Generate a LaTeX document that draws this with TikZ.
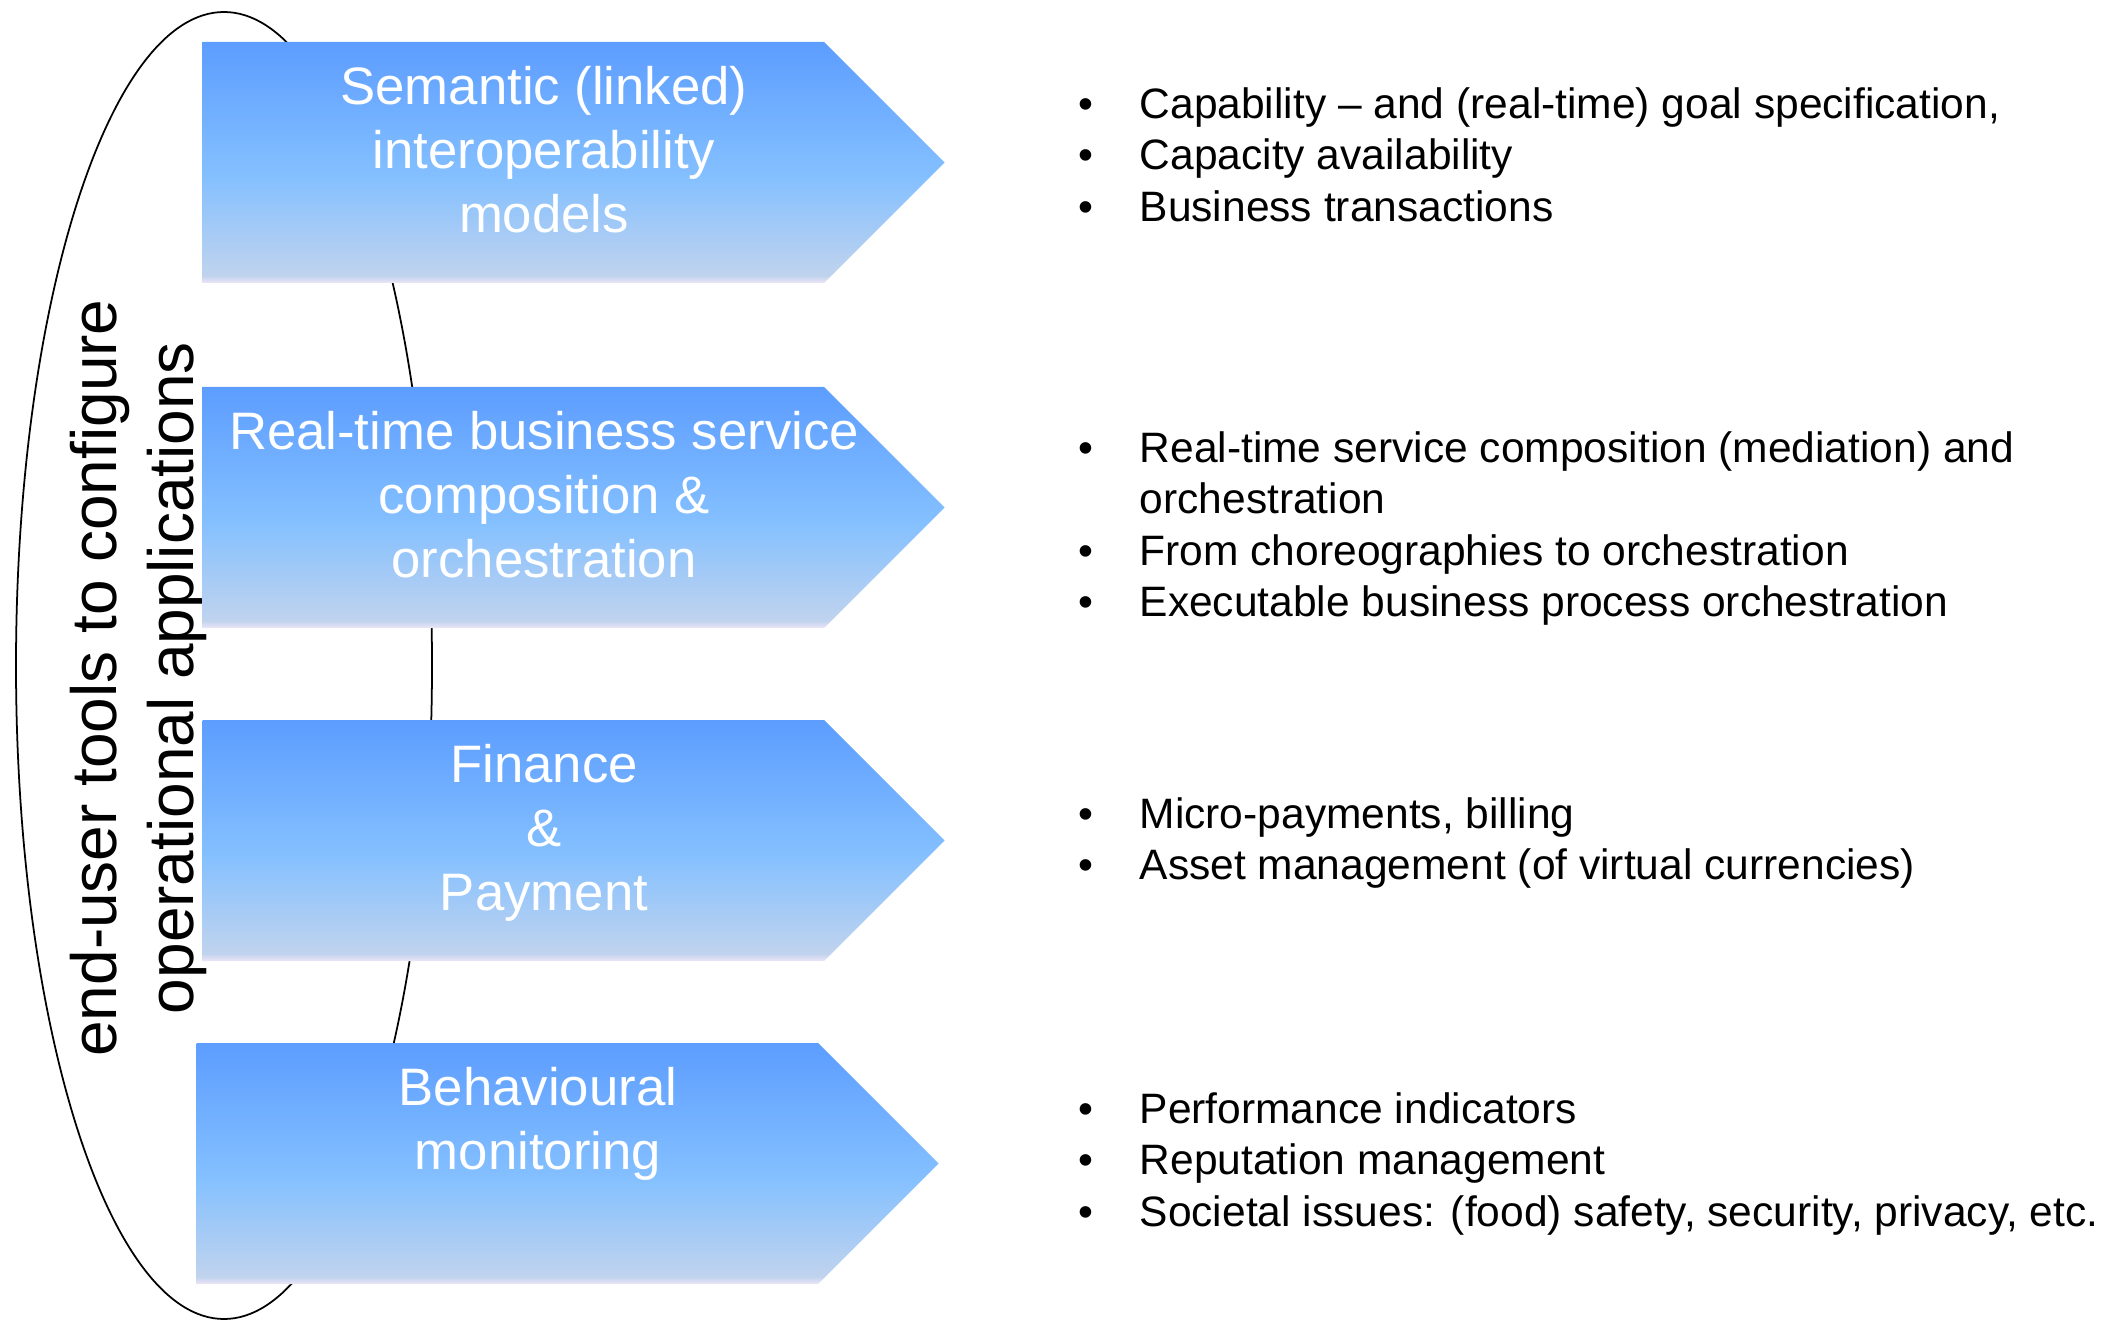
\documentclass[tikz,border=0pt]{standalone}
\usepackage{fontspec}
\setmainfont{Liberation Sans}
\usetikzlibrary{shapes.symbols}
\usetikzlibrary{positioning}

\definecolor{stagetop}{RGB}{92,157,255}
\definecolor{stagemid}{RGB}{132,192,255}
\definecolor{stagelow}{RGB}{192,211,238}
\definecolor{stagebot}{RGB}{238,230,246}
\pgfdeclareverticalshading{stagefill}{100bp}{color(0bp)=(stagebot); color(25bp)=(stagebot); color(26.5bp)=(stagelow); color(47bp)=(stagemid); color(75bp)=(stagetop); color(100bp)=(stagetop)}

\newcommand{\bul}{\makebox[0.61cm][l]{\textbullet}}

\begin{document}
\begin{tikzpicture}
\tikzset{stage/.style = {shape=signal, signal to=east, signal pointer angle=90,
		minimum width=7.42cm, minimum height=2.41cm, inner sep=0pt,
		shade, shading=stagefill}}
\tikzset{stagetext/.style = {align=center, text=white, inner sep=0pt,
		font=\fontsize{15}{18.2}\selectfont}}
\tikzset{points/.style = {align=left, anchor=north west, inner sep=0pt,
		font=\fontsize{12.1}{14.6}\selectfont}}

\useasboundingbox (0,0) rectangle (21.21,13.21);

% loop round the stages
\draw[line width=0.5pt] (2.24,6.555) ellipse [x radius=2.08, y radius=6.535];
\node[rotate=90, align=center, inner sep=0pt, font=\fontsize{18.2}{21.8}\selectfont]
	(tools) at (1.385,6.43) {end-user tools to configure\\operational applications};

% stages
\node[stage, anchor=west] (s1) at (2.02,11.585) {};
\node[stage, anchor=west] (s2) at (2.02,8.135) {};
\node[stage, anchor=west] (s3) at (2.02,4.805) {};
\node[stage, anchor=west] (s4) at (1.96,1.575) {};

\node[stagetext, anchor=north] (t1) at (5.44,12.55) {Semantic (linked)\\interoperability\\models};
\node[stagetext, anchor=north] (t2) at (5.44,9.10) {Real-time business service\\composition \&\\orchestration};
\node[stagetext, anchor=north] (t3) at (5.44,5.77) {Finance\\\&\\Payment};
\node[stagetext, anchor=north] (t4) at (5.38,2.54) {Behavioural\\monitoring};

% bullet lists
\node[points] (p1) at (10.78,12.34) {\bul Capability -- and (real-time) goal specification,\\
	\bul Capacity availability\\
	\bul Business transactions};
\node[points] (p2) at (10.78,8.90) {\bul Real-time service composition (mediation) and\\
	\hspace*{0.61cm}orchestration\\
	\bul From choreographies to orchestration\\
	\bul Executable business process orchestration};
\node[points] (p3) at (10.78,5.24) {\bul Micro-payments, billing\\
	\bul Asset management (of virtual currencies)};
\node[points] (p4) at (10.78,2.29) {\bul Performance indicators\\
	\bul Reputation management\\
	\bul Societal issues: (food) safety, security, privacy, etc.};
\end{tikzpicture}
\end{document}
